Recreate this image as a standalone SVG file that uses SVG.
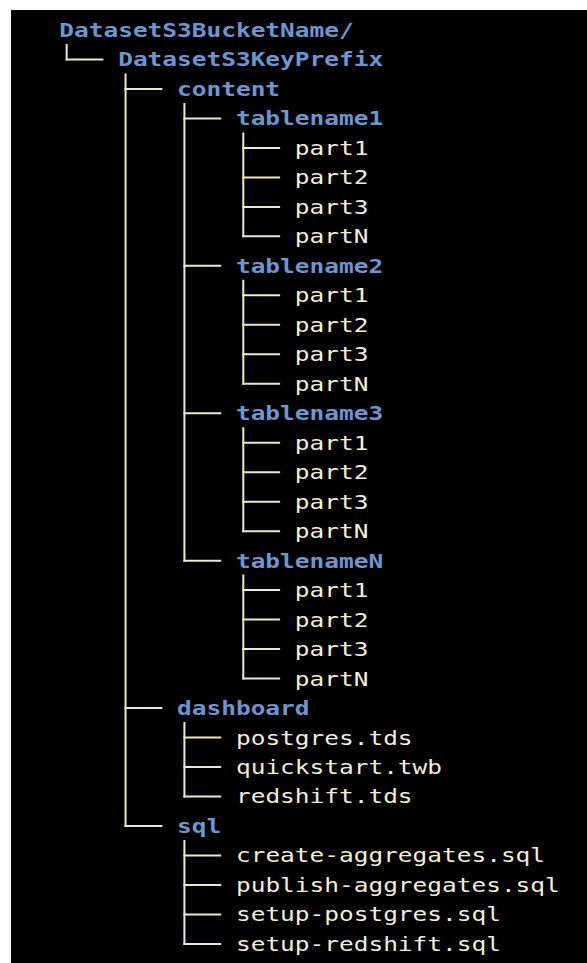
<svg xmlns="http://www.w3.org/2000/svg" width="587" height="963" viewBox="0 0 587 963">
  <style>
    .t { font-family: "DejaVu Sans Mono", "Liberation Mono", monospace; font-size: 20px; }
    .dir { fill: #6a97d2; font-weight: bold; }
    .file { fill: #f3efd4; }
    .edge { stroke: #eeeac4; stroke-width: 2; fill: none; stroke-linecap: square; }
  </style>
  <rect x="0" y="0" width="587" height="963" fill="#ffffff"/>
  <rect x="11" y="10" width="576" height="953" fill="#000000"/>

  <!-- tree connectors: vertical trunks, then one branch per child -->
  <g id="connectors" class="edge">
    <path d="M66.66 45 V59.48"/>
    <path d="M125.54 74.46 V825.96"/>
    <path d="M184.42 103.94 V560.64 M184.42 723.02 V796.48 M184.42 840.94 V943.88"/>
    <path d="M243.30 133.42 V236.36 M243.30 280.82 V383.76 M243.30 428.22 V531.16 M243.30 575.62 V678.56"/>
    <path d="M66.66 59.48 H102.46"/>
    <path d="M125.54 88.96 H161.34 M125.54 708.04 H161.34 M125.54 825.96 H161.34"/>
    <path d="M184.42 118.44 H220.22 M184.42 265.84 H220.22 M184.42 413.24 H220.22 M184.42 560.64 H220.22"/>
    <path d="M184.42 737.52 H220.22 M184.42 767.00 H220.22 M184.42 796.48 H220.22"/>
    <path d="M184.42 855.44 H220.22 M184.42 884.92 H220.22 M184.42 914.40 H220.22 M184.42 943.88 H220.22"/>
    <path d="M243.30 147.92 H279.10 M243.30 177.40 H279.10 M243.30 206.88 H279.10 M243.30 236.36 H279.10"/>
    <path d="M243.30 295.32 H279.10 M243.30 324.80 H279.10 M243.30 354.28 H279.10 M243.30 383.76 H279.10"/>
    <path d="M243.30 442.72 H279.10 M243.30 472.20 H279.10 M243.30 501.68 H279.10 M243.30 531.16 H279.10"/>
    <path d="M243.30 590.12 H279.10 M243.30 619.60 H279.10 M243.30 649.08 H279.10 M243.30 678.56 H279.10"/>
  </g>

  <!-- directories -->
  <g id="bucket"><text class="t dir" x="59.3" y="37" textLength="294.4" lengthAdjust="spacingAndGlyphs">DatasetS3BucketName/</text></g>
  <g id="keyprefix"><text class="t dir" x="118.18" y="66.48" textLength="264.96" lengthAdjust="spacingAndGlyphs">DatasetS3KeyPrefix</text></g>
  <g id="content"><text class="t dir" x="177.06" y="95.96" textLength="103.04" lengthAdjust="spacingAndGlyphs">content</text></g>

  <g id="tablename1">
    <text class="t dir" x="235.94" y="125.44" textLength="147.2" lengthAdjust="spacingAndGlyphs">tablename1</text>
    <text class="t file" x="294.82" y="154.92" textLength="73.6" lengthAdjust="spacingAndGlyphs">part1</text>
    <text class="t file" x="294.82" y="184.40" textLength="73.6" lengthAdjust="spacingAndGlyphs">part2</text>
    <text class="t file" x="294.82" y="213.88" textLength="73.6" lengthAdjust="spacingAndGlyphs">part3</text>
    <text class="t file" x="294.82" y="243.36" textLength="73.6" lengthAdjust="spacingAndGlyphs">partN</text>
  </g>
  <g id="tablename2">
    <text class="t dir" x="235.94" y="272.84" textLength="147.2" lengthAdjust="spacingAndGlyphs">tablename2</text>
    <text class="t file" x="294.82" y="302.32" textLength="73.6" lengthAdjust="spacingAndGlyphs">part1</text>
    <text class="t file" x="294.82" y="331.80" textLength="73.6" lengthAdjust="spacingAndGlyphs">part2</text>
    <text class="t file" x="294.82" y="361.28" textLength="73.6" lengthAdjust="spacingAndGlyphs">part3</text>
    <text class="t file" x="294.82" y="390.76" textLength="73.6" lengthAdjust="spacingAndGlyphs">partN</text>
  </g>
  <g id="tablename3">
    <text class="t dir" x="235.94" y="420.24" textLength="147.2" lengthAdjust="spacingAndGlyphs">tablename3</text>
    <text class="t file" x="294.82" y="449.72" textLength="73.6" lengthAdjust="spacingAndGlyphs">part1</text>
    <text class="t file" x="294.82" y="479.20" textLength="73.6" lengthAdjust="spacingAndGlyphs">part2</text>
    <text class="t file" x="294.82" y="508.68" textLength="73.6" lengthAdjust="spacingAndGlyphs">part3</text>
    <text class="t file" x="294.82" y="538.16" textLength="73.6" lengthAdjust="spacingAndGlyphs">partN</text>
  </g>
  <g id="tablenameN">
    <text class="t dir" x="235.94" y="567.64" textLength="147.2" lengthAdjust="spacingAndGlyphs">tablenameN</text>
    <text class="t file" x="294.82" y="597.12" textLength="73.6" lengthAdjust="spacingAndGlyphs">part1</text>
    <text class="t file" x="294.82" y="626.60" textLength="73.6" lengthAdjust="spacingAndGlyphs">part2</text>
    <text class="t file" x="294.82" y="656.08" textLength="73.6" lengthAdjust="spacingAndGlyphs">part3</text>
    <text class="t file" x="294.82" y="685.56" textLength="73.6" lengthAdjust="spacingAndGlyphs">partN</text>
  </g>

  <g id="dashboard">
    <text class="t dir" x="177.06" y="715.04" textLength="132.48" lengthAdjust="spacingAndGlyphs">dashboard</text>
    <text class="t file" x="235.94" y="744.52" textLength="176.64" lengthAdjust="spacingAndGlyphs">postgres.tds</text>
    <text class="t file" x="235.94" y="774.00" textLength="206.08" lengthAdjust="spacingAndGlyphs">quickstart.twb</text>
    <text class="t file" x="235.94" y="803.48" textLength="176.64" lengthAdjust="spacingAndGlyphs">redshift.tds</text>
  </g>

  <g id="sql">
    <text class="t dir" x="177.06" y="832.96" textLength="44.16" lengthAdjust="spacingAndGlyphs">sql</text>
    <text class="t file" x="235.94" y="862.44" textLength="309.12" lengthAdjust="spacingAndGlyphs">create-aggregates.sql</text>
    <text class="t file" x="235.94" y="891.92" textLength="323.84" lengthAdjust="spacingAndGlyphs">publish-aggregates.sql</text>
    <text class="t file" x="235.94" y="921.40" textLength="264.96" lengthAdjust="spacingAndGlyphs">setup-postgres.sql</text>
    <text class="t file" x="235.94" y="950.88" textLength="264.96" lengthAdjust="spacingAndGlyphs">setup-redshift.sql</text>
  </g>
</svg>
